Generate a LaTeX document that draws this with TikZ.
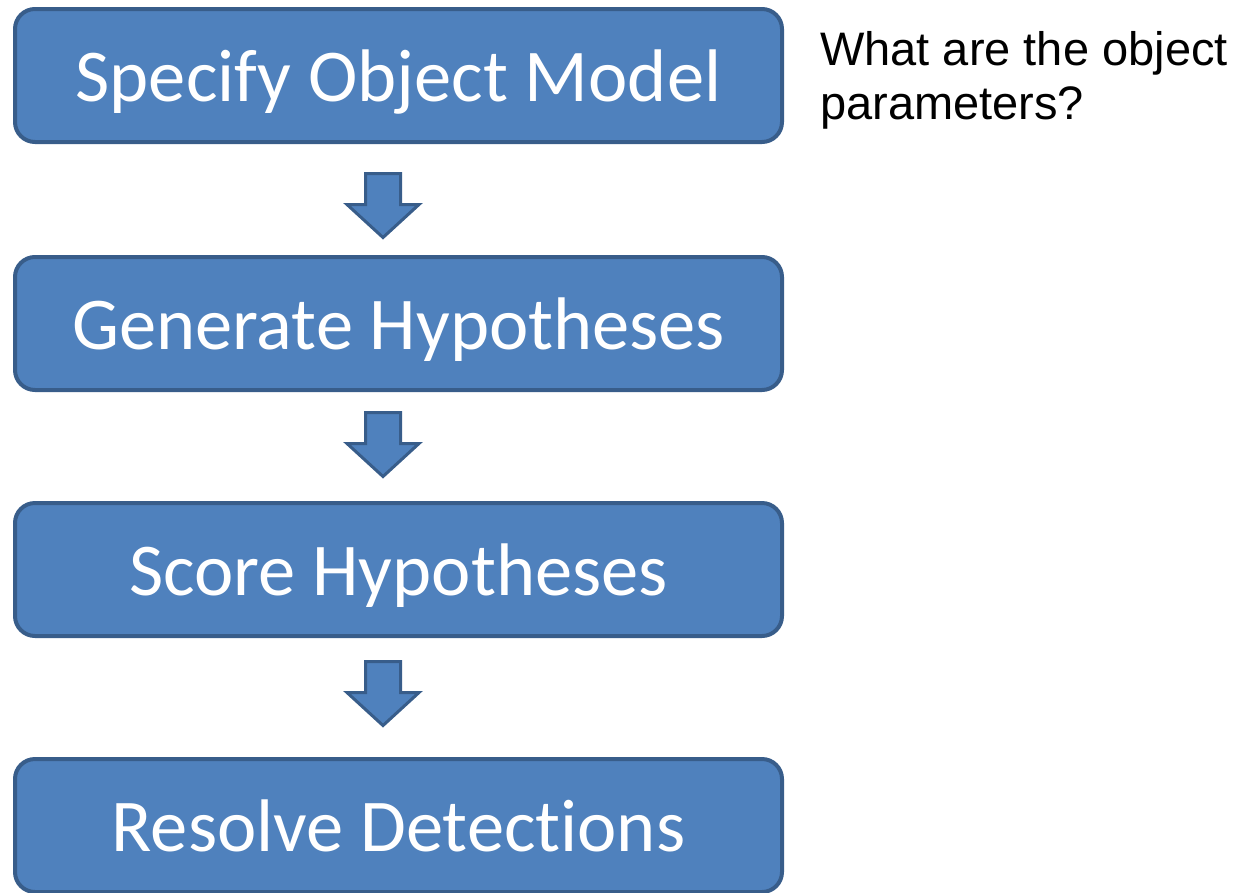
\documentclass[tikz,border=0pt]{standalone}
\usepackage{fontspec}
\setmainfont{Carlito}[Ligatures=NoCommon]
\newfontfamily\notefont{Liberation Sans}
\usetikzlibrary{calc, positioning}

\definecolor{boxfill}{HTML}{4F81BD}
\definecolor{boxline}{HTML}{385D8A}

\begin{document}
\begin{tikzpicture}[
  stage/.style={minimum width=767pt, minimum height=133pt, draw=boxline, fill=boxfill,
    line width=4pt, rounded corners=20pt, text=white, align=center,
    font=\fontsize{74.5}{80}\selectfont, text height=70pt, text depth=18pt},
  note/.style={font=\notefont\fontsize{47}{54}\selectfont, align=left, inner sep=0pt},
  arrowline/.style={draw=boxline, fill=boxfill, line width=3pt, miter limit=10},
  blockarrow/.pic={
    \draw[arrowline] (-17.5pt,0) -- (17.5pt,0) -- (17.5pt,-31pt) -- (36pt,-31pt)
      -- (0,-64pt) -- (-36pt,-31pt) -- (-17.5pt,-31pt) -- cycle;
  }
]
\useasboundingbox[fill=white] (0,0) rectangle (1247pt,-892pt);

% Pipeline stages
\node[stage] (spec) at (398.5pt,-75.5pt) {Specify Object Model};
\node[stage, below=111pt of spec] (gen) {Generate Hypotheses};
\node[stage, below=109pt of gen] (score) {Score Hypotheses};
\node[stage, below=119pt of score] (resolve) {Resolve Detections};

% Block arrows between stages
\pic at ($(spec.south)+(-15.5pt,-29.5pt)$) {blockarrow};
\pic at ($(gen.south)+(-15.5pt,-20.5pt)$) {blockarrow};
\pic at ($(score.south)+(-15.5pt,-23.5pt)$) {blockarrow};

% Side question
\node[note, anchor=north west] (quest) at (820pt,-31pt) {What are the object\\parameters?};

\end{tikzpicture}
\end{document}
